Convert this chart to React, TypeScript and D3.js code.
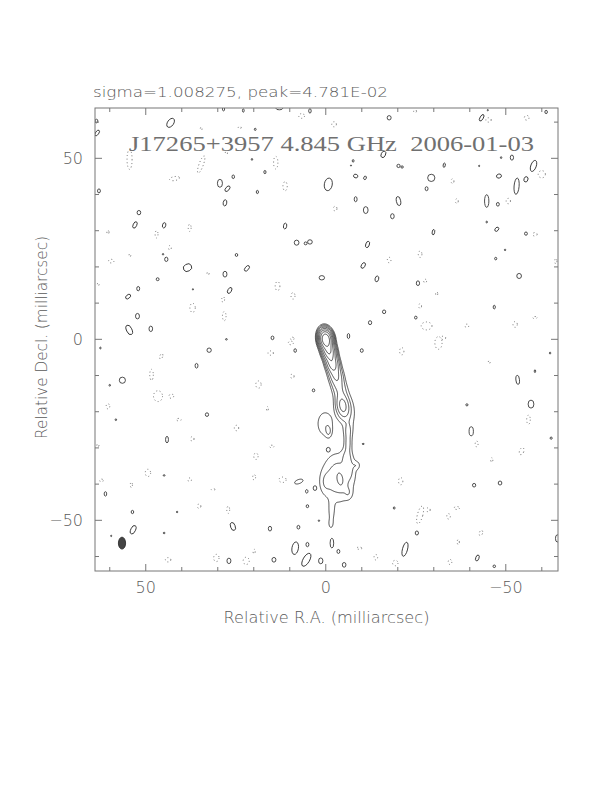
import React, { useEffect, useRef } from 'react';
import * as d3 from 'd3';

// header texts
const statsText = 'sigma=1.008275, peak=4.781E-02';
const titleText = 'J17265+3957 4.845 GHz  2006-01-03';
const xLabel = 'Relative R.A. (milliarcsec)';
const yLabel = 'Relative Decl. (milliarcsec)';

// axes (mas)
const raDomain = [64.1, -64.5];
const decDomain = [63.9, -64.0];
const majorTicks = [50, 0, -50];
const minorTicks = [60, 40, 30, 20, 10, -10, -20, -30, -40, -60];

// contour levels as fraction of peak
const baseLevel = 0.0042;
const levelSteps = [1, 2, 4, 8, 16, 32, 64, 128];

// jet model components: [ra, dec, amp, sigmaX, sigmaY, angle]
const jetComponents = [
  [0, 0, 1.0, 0.85, 1.3, -10],
  [-0.8, -3.0, 0.3, 0.9, 1.5, -14],
  [-1.8, -6.5, 0.1, 0.95, 1.6, -14],
  [-2.8, -10.0, 0.035, 1.1, 1.8, -14],
  [-3.7, -13.5, 0.014, 1.2, 1.8, -14],
  [-4.7, -18.3, 0.04, 1.0, 1.9, -10],
  [-5.6, -19.5, 0.007, 2.1, 4.0, -10],
  [-6.2, -25.5, 0.008, 0.8, 1.8, 0],
  [-6.2, -29.0, 0.008, 0.7, 1.6, 0],
  [0.3, -23.3, 0.0075, 1.7, 2.7, 0],
  [-0.8, -25.5, 0.006, 0.6, 1.1, 0],
  [-3.3, -38.3, 0.012, 3.0, 4.6, 0],
  [-6.8, -35.5, 0.005, 1.0, 2.4, 0],
  [-5.8, -32.3, 0.006, 0.9, 1.5, 0],
  [-4.0, -38.7, 0.01, 0.7, 1.6, -10],
  [-8.6, -34.8, 0.005, 0.7, 0.8, 0],
  [-6.3, -42.5, 0.004, 0.8, 1.2, 0],
  [0.2, -39.5, 0.004, 1.0, 2.0, 0],
  [-1.6, -47.8, 0.006, 0.6, 2.2, 0],
  [-1.4, -51.0, 0.005, 0.5, 1.0, 0],
  [7.5, -39.3, 0.0065, 1.3, 0.6, -20],
  [5.3, -42.0, 0.0052, 0.5, 0.7, 0],
];

// positive noise islands: [ra, dec, width, height, angle]
const posIslands = [
  [43.1, 59.8, 1.7, 2.8, 35], [63.7, 60.3, 0.8, 1.0, 0], [63.5, 57.0, 0.9, 1.8, 35],
  [63.0, 41.0, 0.8, 1.1, 0], [29.4, 43.1, 1.4, 2.2, 0], [27.3, 41.6, 1.0, 1.8, 40],
  [25.7, 44.9, 0.7, 1.0, 0], [28.0, 37.7, 1.0, 1.7, 10], [51.9, 35.0, 1.0, 1.2, 0],
  [53.0, 31.6, 1.0, 1.9, 25], [44.9, 31.5, 0.9, 1.5, 15], [44.3, 22.1, 0.9, 1.2, 0],
  [45.2, 23.5, 0.4, 0.4, 0], [38.4, 19.8, 2.4, 2.0, -30], [24.8, 23.3, 0.7, 0.8, 0],
  [21.9, 19.6, 1.0, 1.8, 40], [28.0, 18.0, 1.1, 1.6, 0], [46.7, 16.6, 0.8, 0.8, 0],
  [52.1, 14.0, 0.8, 1.2, 0], [54.9, 11.8, 1.0, 1.6, 50], [26.7, 13.5, 1.0, 1.8, 30],
  [52.3, 6.4, 1.1, 1.5, 0], [54.6, 2.6, 1.5, 2.8, -25], [48.6, 2.9, 1.0, 1.5, 0],
  [36.9, 13.8, 0.3, 0.4, 0], [27.6, 0, 0.5, 0.4, 0],
  [4.4, 63.1, 0.7, 1.2, 0], [-17.6, 61.2, 1.1, 1.2, 0], [-16.0, 51.1, 1.2, 1.9, 25],
  [-20.2, 47.9, 0.9, 0.9, 0], [-21.2, 47.6, 0.7, 0.6, 0], [16.9, 46.2, 0.6, 0.9, 0],
  [19.0, 40.7, 0.6, 0.9, 0], [-0.7, 42.8, 2.2, 3.5, 10], [-8.3, 45.1, 1.2, 1.0, 20],
  [-10.9, 44.6, 0.7, 1.0, 20], [-7.6, 49.3, 0.5, 0.7, 0], [-8.3, 38.7, 0.8, 1.4, 0],
  [-11.1, 35.7, 1.3, 1.9, 0], [-20.2, 38.2, 1.2, 2.5, -10], [-18.5, 34.0, 1.0, 1.4, 0],
  [11.3, 31.3, 0.9, 1.6, 10], [8.1, 26.7, 1.3, 1.4, 0], [4.4, 26.9, 1.3, 1.2, 0],
  [5.6, 26.5, 0.8, 0.8, 0], [-11.6, 26.2, 1.0, 1.8, 20], [-10.4, 20.4, 1.0, 1.7, 30],
  [1.1, 17.0, 1.5, 1.2, 0], [-14.2, 16.7, 1.0, 1.6, 15], [-16.2, 7.6, 0.9, 1.0, 0],
  [-12.3, 4.6, 0.9, 1.1, 0], [-6.3, 0.9, 0.7, 1.4, 0], [14.8, 0.4, 0.8, 1.0, 0],
  [20.5, 49.7, 0.4, 0.5, 0], [19.6, 58.0, 0.5, 0.6, 0], [-7.0, 48.0, 0.3, 0.3, 0],
  [-43.3, 61.2, 0.9, 2.0, 30], [-61.2, 62.8, 0.7, 0.9, 0], [-51.7, 50.2, 0.9, 1.4, 0],
  [-48.7, 50.2, 0.4, 0.5, 0], [-57.7, 47.9, 1.5, 3.2, 20], [-32.9, 48.1, 0.6, 1.2, 10],
  [-29.3, 44.6, 2.0, 2.0, 0], [-28.0, 41.6, 0.8, 1.1, 0], [-48.1, 45.1, 1.4, 1.1, -20],
  [-53.0, 42.3, 1.4, 4.5, 5], [-55.6, 44.2, 1.1, 1.5, 20], [-44.7, 38.2, 1.2, 3.5, 0],
  [-47.8, 37.3, 0.8, 1.0, 0], [-44.7, 32.4, 0.4, 0.5, 0], [-29.9, 29.6, 0.7, 1.5, 10],
  [-47.5, 30.4, 0.9, 1.3, 40], [-55.6, 29.2, 0.8, 0.9, 0], [-49.8, 24.7, 0.4, 0.4, 0],
  [-47.2, 22.3, 0.6, 0.7, 0], [-53.7, 17.5, 1.3, 1.4, 0], [-25.6, 15.5, 0.9, 1.3, 0],
  [-46.8, 8.9, 0.6, 1.0, 0], [-25.0, 6.0, 0.7, 0.8, 0], [-42.6, 47.9, 0.3, 0.4, 0],
  [32.4, -3.0, 1.2, 1.2, 0], [56.5, -11.3, 1.7, 1.7, 0], [35.9, -7.3, 0.8, 1.3, 0],
  [60.0, -12.7, 0.4, 0.5, 0], [58.3, -22.2, 0.4, 0.5, 0], [33.0, -20.8, 0.9, 1.0, 0],
  [44.1, -27.7, 0.8, 1.8, 0], [44.9, -37.6, 0.5, 0.4, 0], [61.2, -42.7, 0.7, 1.2, 0],
  [53.7, -47.7, 0.7, 0.9, 0], [41.3, -47.7, 0.4, 0.4, 0], [53.5, -52.6, 1.3, 2.5, 25],
  [25.8, -51.7, 1.3, 2.3, -20], [44.9, -53.5, 0.5, 0.4, 0], [59.6, -54.3, 0.3, 0.4, 0],
  [26.9, -61.2, 1.1, 1.5, 0], [62.6, -2.4, 0.4, 0.5, 0],
  [8.5, -3.1, 0.7, 1.0, 0], [-10.0, -3.1, 0.8, 1.0, 0], [3.4, -14.1, 0.7, 0.8, 0],
  [-0.7, -30.5, 1.1, 1.3, 0], [3.0, -41.1, 1.0, 1.3, 0], [5.1, -46.1, 0.7, 0.8, 0],
  [7.6, -51.9, 0.8, 1.0, 0], [15.5, -52.3, 0.9, 1.3, 0], [1.9, -50.1, 0.4, 0.4, 0],
  [8.5, -57.7, 1.8, 3.5, 10], [5.1, -56.7, 0.8, 1.2, 0], [5.4, -60.9, 1.8, 4.0, 30],
  [14.4, -60.9, 1.1, 1.3, 0], [1.4, -61.2, 1.2, 1.6, 0], [-1.7, -56.3, 1.0, 2.7, 0],
  [-3.5, -58.6, 0.8, 1.1, 0], [-5.1, -62.3, 1.0, 1.3, 0], [-19.0, -46.6, 0.5, 0.6, 0],
  [-22.0, -58.0, 1.4, 4.0, 15], [-10.4, -28.9, 0.6, 0.3, 0],
  [-53.3, -11.2, 1.0, 2.5, -5], [-57.0, -17.9, 1.6, 2.2, 0], [-58.1, -8.8, 0.4, 0.8, 0],
  [-40.4, -25.4, 1.2, 2.5, 0], [-39.2, -18.1, 0.6, 0.6, 0], [-62.6, -27.3, 0.6, 0.6, 0],
  [-41.2, -40.3, 0.9, 1.0, 0], [-48.4, -39.7, 1.0, 1.1, 0], [-62.3, -3.8, 0.4, 0.5, 0],
  [-25.3, -53.5, 0.9, 1.1, 0], [-42.1, -60.4, 0.9, 1.7, 20], [-46.8, -62.7, 0.7, 0.7, 0],
  [-64.3, -55.0, 1.0, 2.0, 0],
  [28.4, 63.6, 0.6, 1.0, 0], [22.9, 63.2, 0.5, 0.9, 0], [12.9, 63.8, 1.8, 0.8, 0],
  [-45.0, 63.3, 0.3, 0.4, 0],
];

// negative noise islands: [ra, dec, width, height, angle]
const negIslands = [
  [54.5, 49.7, 1.4, 5.5, 0], [34.6, 48.3, 1.2, 5.0, 20], [42.0, 44.4, 2.8, 1.1, -10],
  [60.5, 29.6, 0.6, 1.0, 0], [47.0, 29.0, 0.8, 2.0, 0], [37.8, 30.8, 0.8, 2.0, 0],
  [43.3, 25.3, 0.8, 1.2, 0], [59.6, 21.6, 1.5, 1.0, 0], [54.4, 23.2, 0.5, 0.8, 0],
  [32.7, 18.2, 0.6, 0.8, 0], [28.5, 11.0, 0.8, 1.5, 0], [37.0, 8.7, 1.5, 2.5, 0],
  [28.2, 6.4, 1.0, 2.5, 0], [34.6, 58.2, 0.5, 0.8, 0], [23.9, 58.5, 0.8, 0.7, 0],
  [27.6, 51.5, 0.6, 0.8, 0], [63.2, 15.2, 0.5, 0.8, 0], [6.7, 61.7, 1.6, 1.3, 0],
  [-2.3, 59.4, 1.3, 1.4, 0], [13.9, 48.8, 1.2, 3.5, 0], [11.3, 42.3, 1.2, 2.5, 0],
  [-2.6, 36.1, 1.0, 1.3, 0], [-17.6, 21.9, 1.0, 1.5, 0], [13.4, 14.7, 1.3, 2.5, 0],
  [9.1, 12.0, 1.1, 1.8, 0], [9.3, 0.2, 1.0, 0.8, 0], [-24.8, 63.0, 0.8, 0.8, 0],
  [-45.2, 60.6, 1.5, 1.2, 0], [-55.8, 61.2, 1.3, 1.3, 0], [-60.0, 45.6, 2.0, 2.0, 0],
  [-35.2, 43.7, 0.8, 1.3, 0], [-36.4, 38.2, 0.8, 1.3, 0], [-50.7, 38.2, 1.2, 1.5, 0],
  [-58.1, 29.0, 1.2, 1.0, 0], [-26.2, 23.5, 1.0, 1.8, 0], [-63.9, 21.6, 0.6, 1.5, 0],
  [-27.6, 16.1, 0.8, 1.0, 0], [-30.8, 12.6, 0.6, 1.0, 0], [-26.2, 9.2, 0.8, 1.3, 0],
  [-28.0, 3.7, 3.0, 2.2, 0], [-39.2, 3.7, 1.0, 1.0, 0], [-52.6, 4.1, 1.2, 1.6, 0],
  [-58.1, 6.0, 1.2, 0.6, 0], [-32.7, 0.4, 1.2, 1.0, 0],
  [45.7, -4.7, 0.8, 1.5, 20], [48.4, -9.8, 1.0, 3.0, 0], [46.6, -15.7, 2.5, 3.0, 0],
  [42.9, -15.7, 1.3, 1.2, 0], [60.5, -18.5, 1.0, 1.4, 0], [40.8, -22.2, 1.3, 0.7, 0],
  [37.1, -27.5, 1.0, 1.2, 0], [24.8, -24.5, 1.2, 1.5, 0], [63.3, -29.3, 0.6, 0.8, 0],
  [49.4, -36.9, 1.5, 2.0, 0], [54.0, -40.2, 0.6, 1.5, 0], [62.3, -39.0, 1.0, 0.8, 0],
  [37.8, -38.8, 1.0, 1.0, 0], [31.3, -41.5, 1.0, 0.6, 0], [35.2, -46.1, 1.0, 1.2, 0],
  [27.1, -47.1, 0.8, 2.0, 0], [43.8, -60.9, 1.5, 1.2, 0], [30.4, -60.4, 1.5, 2.0, 0],
  [22.1, -61.2, 1.7, 2.0, 0],
  [15.3, -3.8, 1.5, 1.2, 0], [9.7, -1.0, 1.4, 1.0, 0], [18.7, -12.5, 1.5, 2.0, 0],
  [9.3, -10.2, 1.0, 1.2, 0], [16.2, -19.2, 0.5, 1.2, 0], [15.0, -29.6, 1.2, 0.7, 0],
  [19.4, -32.3, 1.2, 1.8, 0], [19.9, -38.1, 0.8, 1.5, 0], [12.0, -38.8, 2.0, 1.5, 0],
  [-20.8, -39.2, 1.2, 2.0, 0], [-21.1, -3.3, 1.2, 2.0, 0], [-13.9, -60.2, 1.0, 1.5, 0],
  [-19.3, -61.8, 1.5, 1.5, 0], [19.9, -58.6, 0.6, 1.2, 0], [-9.3, -57.7, 1.5, 0.6, 0],
  [-31.3, -1.0, 2.0, 3.5, 0], [-45.4, -6.3, 0.5, 0.8, 0], [-56.3, -22.2, 1.0, 2.5, 0],
  [-41.9, -28.9, 0.8, 1.6, 0], [-54.4, -30.9, 1.2, 2.0, 20], [-46.1, -33.3, 0.6, 1.2, 0],
  [-26.2, -48.5, 1.5, 5.0, 15], [-28.5, -47.1, 1.0, 1.2, 0], [-34.1, -48.9, 1.0, 1.5, 0],
  [-36.4, -46.6, 1.5, 0.8, 0], [-43.1, -53.5, 0.9, 1.5, 20], [-36.8, -56.0, 0.6, 1.4, 0],
  [-34.5, -61.5, 1.0, 1.4, 0],
];

// restoring beam: [ra, dec, width, height, angle]
const beam = [56.6, -56.3, 2.0, 3.3, 0];

// model grid for the jet
const gridRa = [12, -14];
const gridDec = [8, -58];
const gridStep = 0.2;

export default function App() {
  const svgRef = useRef(null);

  useEffect(() => {
    const svg = d3.select(svgRef.current);
    svg.selectAll('*').remove();

    const frame = { l: 95, r: 558, t: 108, b: 571 };
    const x = d3.scaleLinear().domain(raDomain).range([frame.l, frame.r]);
    const y = d3.scaleLinear().domain(decDomain).range([frame.t, frame.b]);
    const pxPerMasX = Math.abs(x(1) - x(0));
    const pxPerMasY = Math.abs(y(1) - y(0));

    const textColor = '#5a5a5a';
    const lineColor = '#777';
    const font = '"DejaVu Sans", sans-serif';

    svg.append('defs').append('clipPath').attr('id', 'frameClip')
      .append('rect')
      .attr('x', frame.l).attr('y', frame.t)
      .attr('width', frame.r - frame.l).attr('height', frame.b - frame.t);

    const plot = svg.append('g').attr('clip-path', 'url(#frameClip)');

    // jet contours from component model
    const nx = Math.round((gridRa[0] - gridRa[1]) / gridStep);
    const ny = Math.round((gridDec[0] - gridDec[1]) / gridStep);
    const values = new Float64Array(nx * ny);
    for (let j = 0; j < ny; j++) {
      const dec = gridDec[0] - (j + 0.5) * gridStep;
      for (let i = 0; i < nx; i++) {
        const ra = gridRa[0] - (i + 0.5) * gridStep;
        let v = 0;
        for (const c of jetComponents) {
          const [cra, cdec, amp, sx, sy, ang] = c;
          const dx = -(ra - cra);
          const dy = -(dec - cdec);
          const t = (ang * Math.PI) / 180;
          const lx = dx * Math.cos(t) + dy * Math.sin(t);
          const ly = -dx * Math.sin(t) + dy * Math.cos(t);
          v += amp * Math.exp(-0.5 * ((lx / sx) ** 2 + (ly / sy) ** 2));
        }
        values[j * nx + i] = v;
      }
    }
    const thresholds = levelSteps.map(s => s * baseLevel);
    const contours = d3.contours().size([nx, ny]).thresholds(thresholds)(Array.from(values));
    const toScreen = d3.geoTransform({
      point(gx, gy) {
        this.stream.point(x(gridRa[0] - gx * gridStep), y(gridDec[0] - gy * gridStep));
      },
    });
    const path = d3.geoPath(toScreen);
    plot.selectAll('path.jet').data(contours).enter().append('path')
      .attr('class', 'jet')
      .attr('d', d => path(d))
      .attr('fill', 'none')
      .attr('stroke', '#222')
      .attr('stroke-width', 0.8);

    // noise islands
    const drawIslands = (data, cls, dashed) => {
      plot.selectAll('ellipse.' + cls).data(data).enter().append('ellipse')
        .attr('class', cls)
        .attr('cx', d => x(d[0]))
        .attr('cy', d => y(d[1]))
        .attr('rx', d => (d[2] * pxPerMasX) / 2)
        .attr('ry', d => (d[3] * pxPerMasY) / 2)
        .attr('transform', d => `rotate(${d[4]},${x(d[0])},${y(d[1])})`)
        .attr('fill', 'none')
        .attr('stroke', dashed ? '#666' : '#222')
        .attr('stroke-width', dashed ? 0.9 : 0.8)
        .attr('stroke-dasharray', dashed ? '1 2.5' : null);
    };
    drawIslands(posIslands, 'pos', false);
    drawIslands(negIslands, 'neg', true);

    // beam
    plot.append('ellipse')
      .attr('cx', x(beam[0])).attr('cy', y(beam[1]))
      .attr('rx', (beam[2] * pxPerMasX) / 2).attr('ry', (beam[3] * pxPerMasY) / 2)
      .attr('transform', `rotate(${beam[4]},${x(beam[0])},${y(beam[1])})`)
      .attr('fill', '#444').attr('stroke', '#222').attr('stroke-width', 0.8);

    // frame and ticks
    svg.append('rect')
      .attr('x', frame.l).attr('y', frame.t)
      .attr('width', frame.r - frame.l).attr('height', frame.b - frame.t)
      .attr('fill', 'none').attr('stroke', lineColor).attr('stroke-width', 1);

    const ticks = svg.append('g').attr('stroke', lineColor).attr('stroke-width', 1);
    const allTicks = [...majorTicks.map(v => [v, 7]), ...minorTicks.map(v => [v, 4])];
    allTicks.forEach(([v, len]) => {
      const xv = x(v);
      const yv = y(v);
      ticks.append('line').attr('x1', xv).attr('x2', xv).attr('y1', frame.b).attr('y2', frame.b - len);
      ticks.append('line').attr('x1', xv).attr('x2', xv).attr('y1', frame.t).attr('y2', frame.t + len);
      ticks.append('line').attr('y1', yv).attr('y2', yv).attr('x1', frame.l).attr('x2', frame.l + len);
      ticks.append('line').attr('y1', yv).attr('y2', yv).attr('x1', frame.r).attr('x2', frame.r - len);
    });

    const fmt = v => (v < 0 ? '\u2212' + Math.abs(v) : String(v));
    svg.append('g').selectAll('text').data(majorTicks).enter().append('text')
      .attr('x', d => x(d)).attr('y', 593)
      .attr('text-anchor', 'middle')
      .attr('font-family', font).attr('font-weight', 200).attr('font-size', 16)
      .attr('fill', textColor)
      .text(fmt);
    svg.append('g').selectAll('text').data(majorTicks).enter().append('text')
      .attr('x', 83).attr('y', d => y(d) + 6)
      .attr('text-anchor', 'end')
      .attr('font-family', font).attr('font-weight', 200).attr('font-size', 16)
      .attr('fill', textColor)
      .text(fmt);

    svg.append('text')
      .attr('x', (frame.l + frame.r) / 2).attr('y', 623)
      .attr('text-anchor', 'middle')
      .attr('font-family', font).attr('font-weight', 200).attr('font-size', 16)
      .attr('fill', textColor)
      .attr('textLength', 206).attr('lengthAdjust', 'spacingAndGlyphs')
      .text(xLabel);

    svg.append('text')
      .attr('transform', `translate(47,${(frame.t + frame.b) / 2 - 2}) rotate(-90)`)
      .attr('text-anchor', 'middle')
      .attr('font-family', font).attr('font-weight', 200).attr('font-size', 16)
      .attr('fill', textColor)
      .attr('textLength', 203).attr('lengthAdjust', 'spacingAndGlyphs')
      .text(yLabel);

    svg.append('text')
      .attr('x', 93).attr('y', 97)
      .attr('font-family', font).attr('font-weight', 200).attr('font-size', 14.5)
      .attr('fill', textColor)
      .attr('textLength', 295).attr('lengthAdjust', 'spacingAndGlyphs')
      .text(statsText);

    svg.append('text')
      .attr('x', 129).attr('y', 151)
      .attr('font-family', '"Liberation Serif", serif').attr('font-size', 21)
      .attr('fill', '#707070')
      .attr('textLength', 405).attr('lengthAdjust', 'spacingAndGlyphs')
      .attr('xml:space', 'preserve')
      .text(titleText);
  }, []);

  return (
    <svg
      ref={svgRef}
      width="612"
      height="792"
      viewBox="0 0 612 792"
      style={{ position: 'absolute', left: 0, top: 0, background: '#fff' }}
    />
  );
}
